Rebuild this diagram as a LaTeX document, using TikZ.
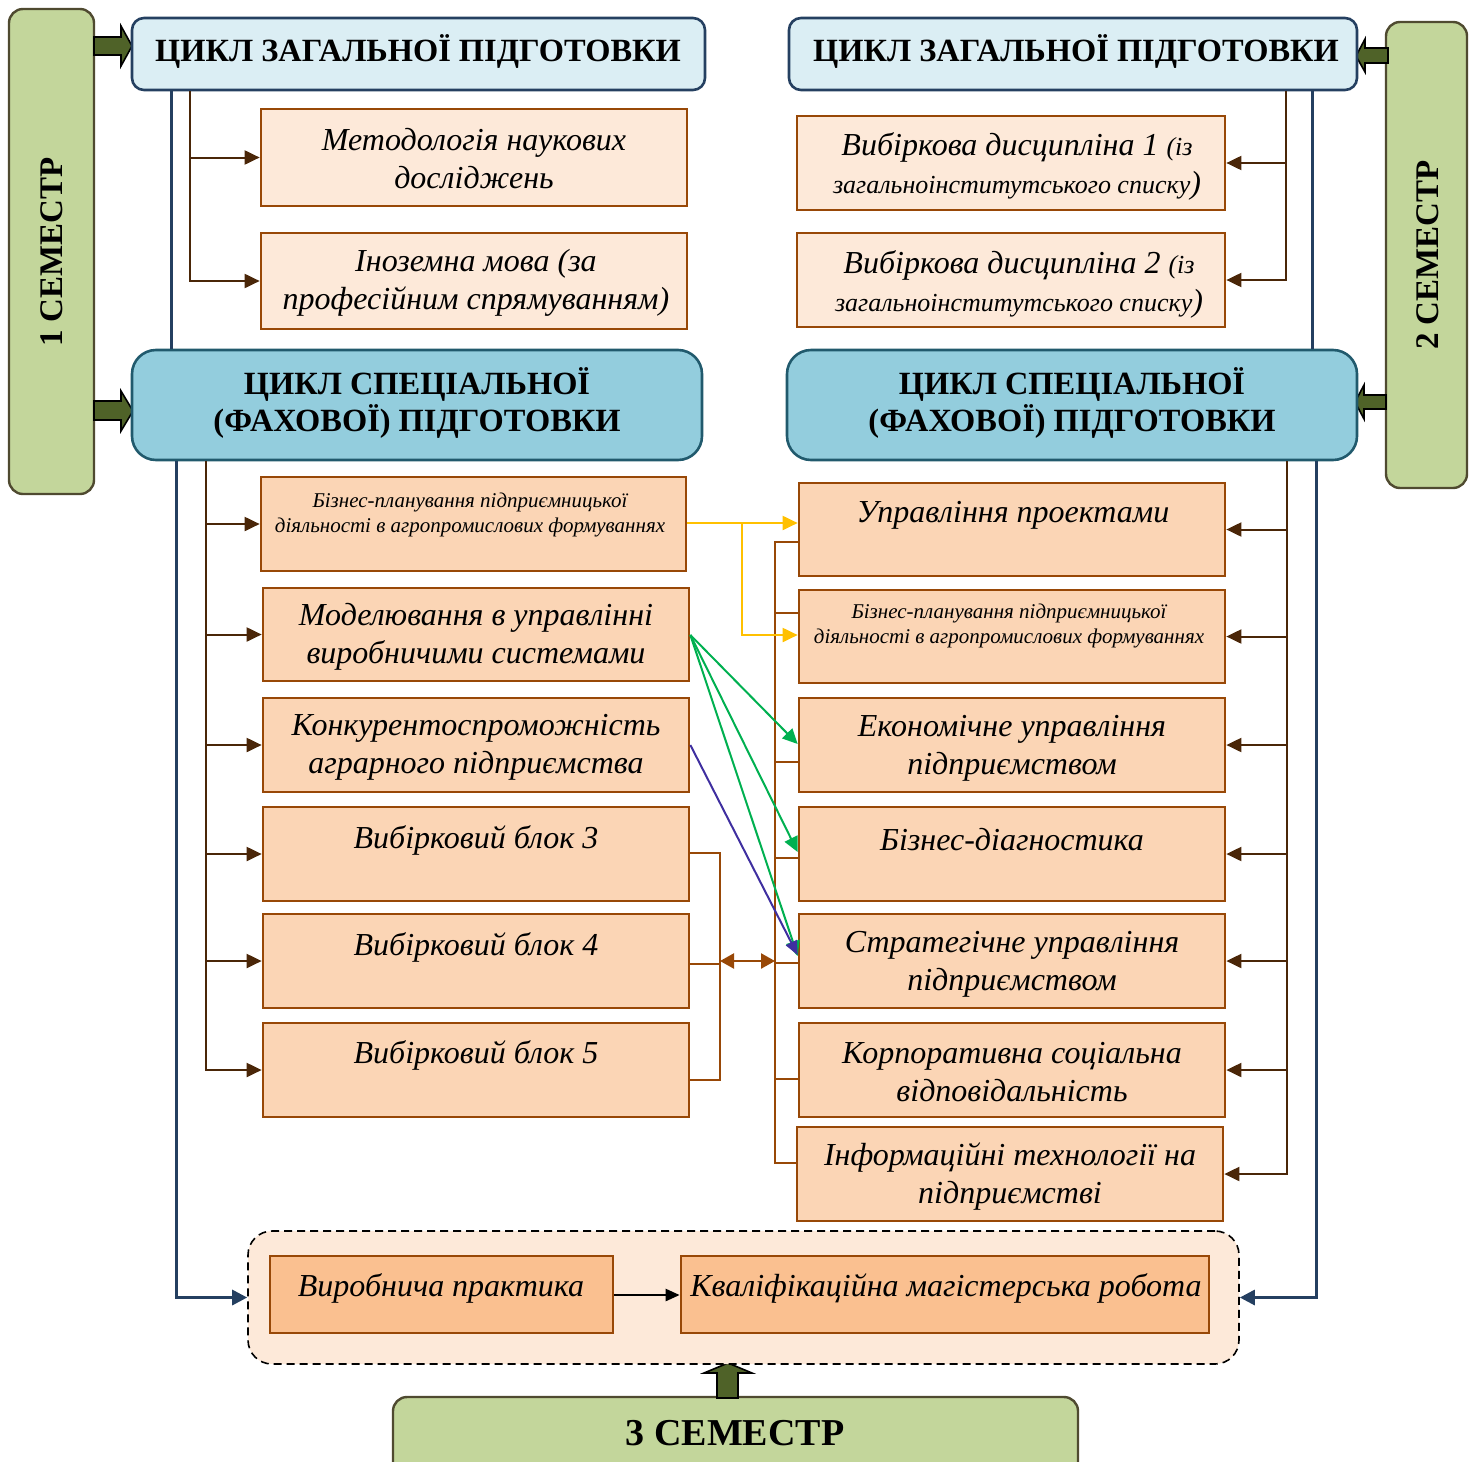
\documentclass[tikz,border=0pt]{standalone}
\usepackage{fontspec}
\setmainfont{Liberation Serif}
\usetikzlibrary{arrows.meta,calc}
\definecolor{semfill}{HTML}{C3D69B}
\definecolor{semdraw}{HTML}{4F4A30}
\definecolor{fatgreen}{HTML}{4F6228}
\definecolor{honefill}{HTML}{DBEEF4}
\definecolor{honedraw}{HTML}{254061}
\definecolor{htwofill}{HTML}{93CDDD}
\definecolor{htwodraw}{HTML}{215A6D}
\definecolor{bxdraw}{HTML}{984807}
\definecolor{lightfill}{HTML}{FDE9D9}
\definecolor{midfill}{HTML}{FBD5B5}
\definecolor{darkfill}{HTML}{FAC090}
\definecolor{brn}{HTML}{4A2608}
\definecolor{blu}{HTML}{243F60}
\definecolor{ylw}{HTML}{FFC000}
\definecolor{grn}{HTML}{00B050}
\definecolor{prp}{HTML}{3F2FA0}
\newcommand\mkbox[6]{\node[#6, minimum width={(#4-#2)*0.5}, minimum height={(#5-#3)*0.5}] (#1) at ({(#2+#4)/2},{(#3+#5)/2}) {};}
\newcommand\smallpart{\fontsize{13}{19}\selectfont}
\tikzset{
  sem/.style={draw=semdraw, fill=semfill, line width=1.2pt, rounded corners=7pt, inner sep=0pt},
  hone/.style={draw=honedraw, fill=honefill, line width=1.3pt, rounded corners=6pt, inner sep=0pt},
  htwo/.style={draw=htwodraw, fill=htwofill, line width=1.3pt, rounded corners=12pt, inner sep=0pt},
  lbox/.style={draw=bxdraw, fill=lightfill, line width=1.35pt, inner sep=0pt},
  mbox/.style={draw=bxdraw, fill=midfill, line width=1.35pt, inner sep=0pt},
  dbox/.style={draw=bxdraw, fill=darkfill, line width=1.35pt, inner sep=0pt},
  contbox/.style={draw=black, dash pattern=on 4pt off 2.5pt, fill=lightfill, line width=0.8pt, rounded corners=12pt, inner sep=0pt},
  itx/.style={font=\itshape\fontsize{16}{19}\selectfont, align=center, inner sep=0pt},
  stx/.style={font=\itshape\fontsize{10.5}{12.5}\selectfont, align=center, inner sep=0pt},
  htx/.style={font=\bfseries\fontsize{16.2}{18.5}\selectfont, align=center, inner sep=0pt},
  semtx/.style={font=\bfseries\fontsize{16.5}{20}\selectfont, inner sep=0pt},
  brnline/.style={draw=brn, line width=1pt},
  brnarr/.style={brnline, -{Triangle[length=7.5pt,width=7pt]}},
  bluline/.style={draw=blu, line width=1.5pt},
  bluarr/.style={bluline, -{Triangle[length=7.5pt,width=7.5pt]}},
  ornline/.style={draw=bxdraw, line width=1.2pt},
  ornarr/.style={ornline, {Triangle[length=7pt,width=7.5pt]}-{Triangle[length=7pt,width=7.5pt]}},
  ylwarr/.style={draw=ylw, line width=1pt, -{Triangle[length=7.5pt,width=7pt]}},
  grnarr/.style={draw=grn, line width=1pt, -{Triangle[length=7.5pt,width=7pt]}},
  prparr/.style={draw=prp, line width=1pt, -{Triangle[length=7pt,width=6pt]}},
  fat/.style={draw=black, fill=fatgreen, line width=0.8pt, line join=miter}
}
\begin{document}
\begin{tikzpicture}[x=0.5pt,y=-0.5pt]
\useasboundingbox (0,0) rectangle (1475,1461);
% semester boxes
\mkbox{sema}{9}{9}{94}{494}{sem}
\mkbox{semb}{1386}{22}{1467}{488}{sem}
\mkbox{semc}{393}{1397}{1078}{1500}{sem}
\node[semtx, rotate=90] (sematx) at (52,252) {1 СЕМЕСТР};
\node[semtx, rotate=90] (sembtx) at (1428,255) {2 СЕМЕСТР};
\node[semtx, font=\bfseries\fontsize{19}{24}\selectfont] (semctx) at (735,1433) {3 СЕМЕСТР};
% fat arrows
\filldraw[fat] (94,37) -- (121,37) -- (121,26) -- (132,46) -- (121,66) -- (121,55) -- (94,55) -- cycle;
\filldraw[fat] (94,401) -- (121,401) -- (121,391) -- (133,411) -- (121,431) -- (121,420) -- (94,420) -- cycle;
\filldraw[fat] (1388,48) -- (1365,48) -- (1365,39) -- (1356,56) -- (1365,72) -- (1365,63) -- (1388,63) -- cycle;
\filldraw[fat] (1386,395) -- (1364,395) -- (1364,385) -- (1355,402) -- (1364,419) -- (1364,409) -- (1386,409) -- cycle;
\filldraw[fat] (717,1398) -- (717,1373) -- (704,1373) -- (728,1363) -- (752,1373) -- (738,1373) -- (738,1398) -- cycle;
% headers
\mkbox{hla}{132}{18}{705}{90}{hone}
\mkbox{hra}{789}{18}{1357}{90}{hone}
\mkbox{hlb}{132}{350}{702}{460}{htwo}
\mkbox{hrb}{787}{350}{1357}{460}{htwo}
\node[htx] (hlatx) at (418,51) {ЦИКЛ ЗАГАЛЬНОЇ ПІДГОТОВКИ};
\node[htx] (hratx) at (1076,51) {ЦИКЛ ЗАГАЛЬНОЇ ПІДГОТОВКИ};
\node[htx] (hlbtx) at (417,403) {ЦИКЛ СПЕЦІАЛЬНОЇ\\(ФАХОВОЇ) ПІДГОТОВКИ};
\node[htx] (hrbtx) at (1072,403) {ЦИКЛ СПЕЦІАЛЬНОЇ\\(ФАХОВОЇ) ПІДГОТОВКИ};
% general cycle boxes
\mkbox{ma}{261}{109}{687}{206}{lbox}
\mkbox{mb}{261}{233}{687}{329}{lbox}
\mkbox{ra}{797}{116}{1225}{210}{lbox}
\mkbox{rb}{797}{233}{1225}{327}{lbox}
\node[itx] (matx) at (474,159) {Методологія наукових\\досліджень};
\node[itx] (mbtx) at (476,283) {Іноземна мова (за\\професійним спрямуванням)};
\node[itx] (ratx) at (1017,166) {Вибіркова дисципліна 1 {\smallpart(із}\\{\smallpart загальноінститутського списку})};
\node[itx] (rbtx) at (1019,284) {Вибіркова дисципліна 2 {\smallpart(із}\\{\smallpart загальноінститутського списку})};
% special left boxes
\mkbox{la}{261}{477}{686}{571}{mbox}
\mkbox{lb}{263}{588}{689}{681}{mbox}
\mkbox{lc}{263}{698}{689}{792}{mbox}
\mkbox{ld}{263}{807}{689}{901}{mbox}
\mkbox{le}{263}{914}{689}{1008}{mbox}
\mkbox{lf}{263}{1023}{689}{1117}{mbox}
\node[stx] (latx) at (470,515) {Бізнес-планування підприємницької\\діяльності в агропромислових формуваннях};
\node[itx] (lbtx) at (476,637) {Моделювання в управлінні\\виробничими системами};
\node[itx] (lctx) at (476,747) {Конкурентоспроможність\\аграрного підприємства};
\node[itx] (ldtx) at (476,840) {Вибірковий блок 3};
\node[itx] (letx) at (476,947) {Вибірковий блок 4};
\node[itx] (lftx) at (476,1055) {Вибірковий блок 5};
% special right boxes
\mkbox{sa}{799}{483}{1225}{576}{mbox}
\mkbox{sb}{799}{590}{1225}{683}{mbox}
\mkbox{sc}{799}{698}{1225}{792}{mbox}
\mkbox{sd}{799}{807}{1225}{901}{mbox}
\mkbox{se}{799}{914}{1225}{1008}{mbox}
\mkbox{sf}{799}{1023}{1225}{1117}{mbox}
\mkbox{sg}{797}{1127}{1223}{1221}{mbox}
\node[itx] (satx) at (1013,515) {Управління проектами};
\node[stx] (sbtx) at (1009,626) {Бізнес-планування підприємницької\\діяльності в агропромислових формуваннях};
\node[itx] (sctx) at (1012,748) {Економічне управління\\підприємством};
\node[itx] (sdtx) at (1012,840) {Бізнес-діагностика};
\node[itx] (setx) at (1012,964) {Стратегічне управління\\підприємством};
\node[itx] (sftx) at (1012,1072) {Корпоративна соціальна\\відповідальність};
\node[itx] (sgtx) at (1010,1177) {Інформаційні технології на\\підприємстві};
% bottom container
\mkbox{cont}{248}{1231}{1239}{1364}{contbox}
\mkbox{pa}{270}{1256}{613}{1333}{dbox}
\mkbox{pb}{681}{1256}{1209}{1333}{dbox}
\node[itx] (patx) at (441,1288) {Виробнича практика};
\node[itx] (pbtx) at (946,1288) {Кваліфікаційна магістерська робота};
\draw[draw=black, line width=1.2pt, -{Triangle[length=7pt,width=6pt]}] (pa.east |- 0,1295) -- (pb.west |- 0,1295);
% blue connectors
\draw[bluline] (171,0 |- hla.south) -- (171,0 |- hlb.north);
\draw[bluline] (1312,0 |- hra.south) -- (1312,0 |- hrb.north);
\draw[bluarr] (176,0 |- hlb.south) |- (cont.west);
\draw[bluarr] (1316,0 |- hrb.south) |- (cont.east);
% brown connectors top
\draw[brnarr] (190,0 |- hla.south) |- (ma.west);
\draw[brnarr] (190,0 |- hla.south) |- (mb.west);
\draw[brnarr] (1286,0 |- hra.south) |- (ra.east);
\draw[brnarr] (1286,0 |- hra.south) |- (rb.east);
% brown connectors special left
\foreach \n in {la,lb,lc,ld,le,lf}{\draw[brnarr] (206,0 |- hlb.south) |- (\n.west);}
% brown connectors special right
\foreach \n in {sa,sb,sc,sd,se,sf,sg}{\draw[brnarr] (1287,0 |- hrb.south) |- (\n.east);}
% orange bracket left
\draw[ornline] (ld.east |- 0,853) -- (720,853) -- (720,1080) -- (lf.east |- 0,1080);
\draw[ornline] (le.east |- 0,964) -- (720,964);
\coordinate (lbr) at (720,961);
\coordinate (rbr) at (775,961);
\draw[ornarr] (lbr) -- (rbr);
% orange bracket right
\draw[ornline] (sa.west |- 0,542) -- (775,542) -- (775,1163) -- (sg.west |- 0,1163);
\draw[ornline] (775,613) -- (sb.west |- 0,613);
\draw[ornline] (775,762) -- (sc.west |- 0,762);
\draw[ornline] (775,858) -- (sd.west |- 0,858);
\draw[ornline] (775,963) -- (se.west |- 0,963);
\draw[ornline] (775,1079) -- (sf.west |- 0,1079);
% yellow arrows
\draw[ylwarr] (la.east |- 0,523) -- (sa.west |- 0,523);
\draw[ylwarr] (742,523) |- (sb.west |- 0,635);
% green and purple arrows
\draw[grnarr] (lb.east |- 0,635) -- (sc.west |- 0,744);
\draw[grnarr] (lb.east |- 0,635) -- (sd.west |- 0,852);
\draw[grnarr] (lb.east |- 0,635) -- (se.west |- 0,956);
\draw[prparr] (lc.east |- 0,745) -- (se.west |- 0,955);
\end{tikzpicture}
\end{document}
